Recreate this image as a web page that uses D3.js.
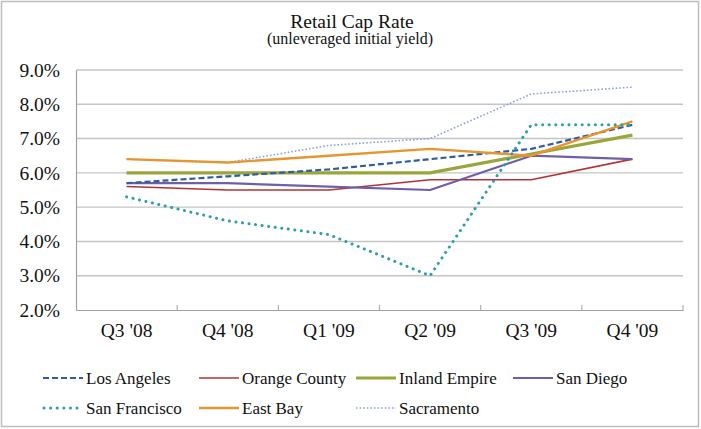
<!DOCTYPE html>
<html><head><meta charset="utf-8">
<script src="https://cdn.jsdelivr.net/npm/d3@7"></script>
<style>body{margin:0;background:#fff}svg{display:block}</style>
</head><body><svg id="c" width="701" height="429"></svg>
<script>
const categories = ["Q3 '08","Q4 '08","Q1 '09","Q2 '09","Q3 '09","Q4 '09"];
const yTicks = [2,3,4,5,6,7,8,9];
const losAngeles    = [5.7,5.9,6.1,6.4,6.7,7.4];
const orangeCounty  = [5.6,5.5,5.5,5.8,5.8,6.4];
const inlandEmpire  = [6.0,6.0,6.0,6.0,6.55,7.1];
const sanDiego      = [5.7,5.7,5.6,5.5,6.5,6.4];
const sanFrancisco  = [5.3,4.6,4.2,3.0,7.4,7.4];
const eastBay       = [6.4,6.3,6.5,6.7,6.5,7.5];
const sacramento    = [6.4,6.3,6.8,7.0,8.3,8.5];

const FONT = "Liberation Serif";
const series = [
  {name:"Los Angeles", values:losAngeles, color:"#2f5d9e", w:2.2, dash:"6,3", cap:"butt"},
  {name:"Orange County", values:orangeCounty, color:"#b03434", w:1.6, dash:null, cap:"butt"},
  {name:"Inland Empire", values:inlandEmpire, color:"#9aa53a", w:3.2, dash:null, cap:"butt"},
  {name:"San Diego", values:sanDiego, color:"#6f5fa8", w:2.2, dash:null, cap:"butt"},
  {name:"San Francisco", values:sanFrancisco, color:"#2e9fa8", w:3, dash:"0.1,6.5", cap:"round"},
  {name:"East Bay", values:eastBay, color:"#e8952f", w:2.4, dash:null, cap:"butt"},
  {name:"Sacramento", values:sacramento, color:"#8ea2d8", w:1.6, dash:"1.6,2", cap:"butt"}
];
const drawOrder = [6,1,3,2,0,5,4];

const svg = d3.select("#c");
svg.append("rect").attr("x",1.5).attr("y",1.5).attr("width",697).attr("height",425)
  .attr("fill","#fff").attr("stroke","#bdbdbd").attr("stroke-width",1.5);

const L=76, R=683, T=70, B=310;
const x = d3.scaleBand().domain(categories).range([L,R]);
const y = d3.scaleLinear().domain([2,9]).range([B,T]);

svg.append("text").attr("x",352).attr("y",28).attr("text-anchor","middle")
  .attr("font-family",FONT).attr("font-size",19.5).attr("fill","#111").text("Retail Cap Rate");
svg.append("text").attr("x",350).attr("y",44).attr("text-anchor","middle")
  .attr("font-family",FONT).attr("font-size",16).attr("fill","#111").text("(unleveraged initial yield)");

// gridlines
svg.append("g").selectAll("line").data(yTicks.filter(d=>d>2)).join("line")
  .attr("x1",L).attr("x2",R).attr("y1",d=>y(d)).attr("y2",d=>y(d))
  .attr("stroke","#c4c4c4").attr("stroke-width",1.4);

// y axis
const ya = svg.append("g").attr("transform",`translate(${L},0)`)
  .call(d3.axisLeft(y).tickValues(yTicks).tickSize(0).tickPadding(16).tickFormat(d=>d3.format(".1f")(d)+"%"));
ya.attr("font-family",FONT).attr("font-size",19.5);
ya.select(".domain").attr("stroke","#a0a0a0").attr("stroke-width",1.2);
ya.selectAll("text").attr("fill","#111");

// x axis
const xa = svg.append("g").attr("transform",`translate(0,${B})`)
  .call(d3.axisBottom(x).tickSize(0).tickPadding(13));
xa.attr("font-family",FONT).attr("font-size",19.5);
xa.select(".domain").attr("stroke","#a0a0a0").attr("stroke-width",1.2);
xa.selectAll("text").attr("fill","#111");
const bounds = categories.map((c)=>x(c)).concat([R]);
svg.append("g").selectAll("line").data(bounds.slice(1)).join("line")
  .attr("x1",d=>d).attr("x2",d=>d).attr("y1",B).attr("y2",B-5)
  .attr("stroke","#b0b0b0").attr("stroke-width",1.2);

const line = d3.line().x((d,i)=>x(categories[i])+x.bandwidth()/2).y(d=>y(d));
drawOrder.forEach(i=>{
  const s = series[i];
  svg.append("path").attr("d",line(s.values)).attr("fill","none")
    .attr("stroke",s.color).attr("stroke-width",s.w)
    .attr("stroke-dasharray",s.dash).attr("stroke-linecap",s.cap)
    .attr("stroke-linejoin","round");
});

// legend
const legX = [43,199,356,513];
const legY = [378,408];
series.forEach((s,i)=>{
  const row = i<4?0:1, col = i<4?i:i-4;
  const lx = legX[col], ly = legY[row];
  svg.append("line").attr("x1",lx+(s.cap==="round"?1:0)).attr("x2",lx+(s.cap==="round"?38:40)).attr("y1",ly).attr("y2",ly)
    .attr("stroke",s.color).attr("stroke-width",s.w).attr("stroke-dasharray",s.dash).attr("stroke-linecap",s.cap);
  svg.append("text").attr("x",lx+43).attr("y",ly+6)
    .attr("font-family",FONT).attr("font-size",17).attr("fill","#111").text(s.name);
});
</script></body></html>
